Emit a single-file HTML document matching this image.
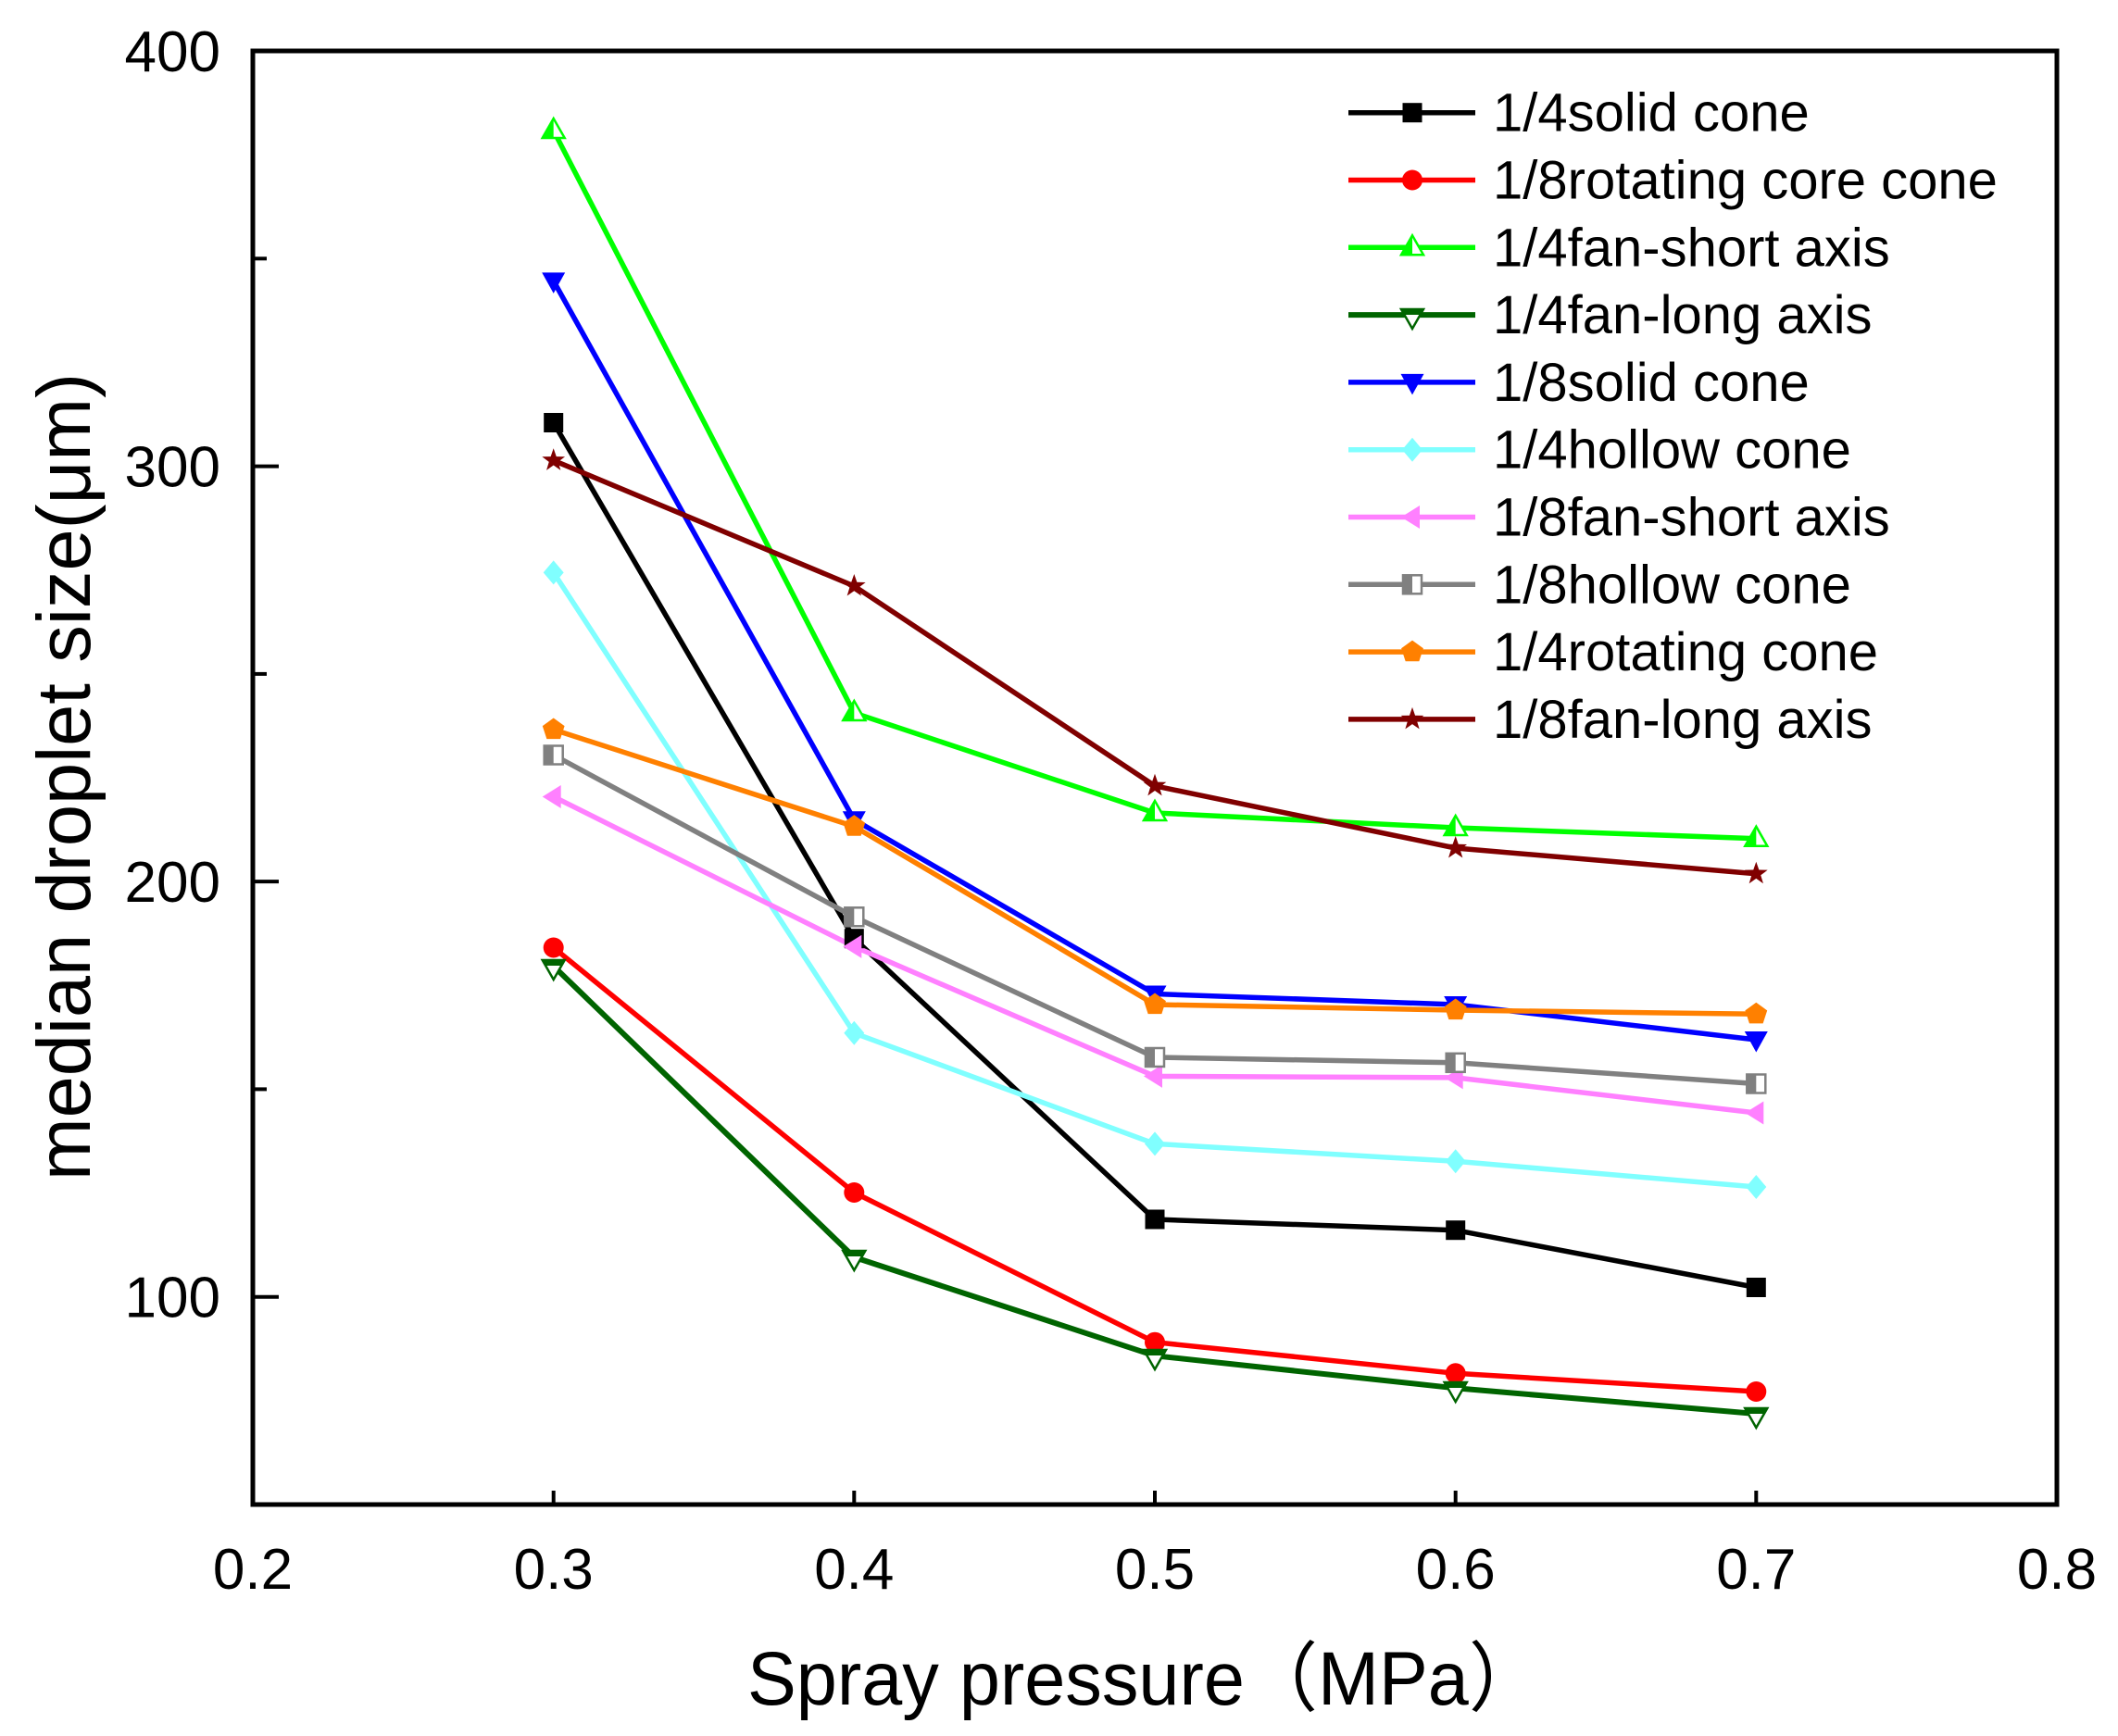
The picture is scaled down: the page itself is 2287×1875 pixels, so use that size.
<!DOCTYPE html>
<html>
<head>
<meta charset="utf-8">
<style>
  html, body { margin: 0; padding: 0; background: #ffffff; }
  svg { display: block; }
  text { font-family: "Liberation Sans", "Noto Sans CJK SC", sans-serif; fill: #000; }
</style>
</head>
<body>
<svg width="2287" height="1875" viewBox="0 0 2287 1875" xmlns="http://www.w3.org/2000/svg">
  <defs>
    <g id="mSq"><rect x="-10.5" y="-10.5" width="21" height="21" fill="#000000"/></g>
    <g id="mCirc"><circle cx="0" cy="0" r="11" fill="#ff0000"/></g>
    <g id="mUp">
      <polygon points="0,-13 -12,8 12,8" fill="#ffffff" stroke="#00ff00" stroke-width="2.5" stroke-linejoin="miter"/>
      <polygon points="0,-13 -12,8 0,8" fill="#00ff00"/>
    </g>
    <g id="mDnH">
      <polygon points="-12,-8 12,-8 0,13" fill="#ffffff" stroke="#006400" stroke-width="2.5"/>
      <polygon points="-12,-8 12,-8 8.6,-2 -8.6,-2" fill="#006400"/>
    </g>
    <g id="mDn"><polygon points="-12.5,-9 12.5,-9 0,13.5" fill="#0000ff"/></g>
    <g id="mDia"><polygon points="0,-13 11,0 0,13 -11,0" fill="#80ffff"/></g>
    <g id="mLeft"><polygon points="-12,0 8,-12.5 8,12.5" fill="#ff80ff"/></g>
    <g id="mHSq">
      <rect x="-10" y="-10" width="20" height="20" fill="#ffffff" stroke="#808080" stroke-width="2.5"/>
      <rect x="-10" y="-10" width="10" height="20" fill="#808080"/>
    </g>
    <g id="mPent"><polygon points="0,-12.5 11.9,-3.9 7.35,10.1 -7.35,10.1 -11.9,-3.9" fill="#ff8000"/></g>
    <g id="mStar"><polygon points="0,-13 3.06,-4.21 12.36,-4.02 4.95,1.61 7.64,10.52 0,5.2 -7.64,10.52 -4.95,1.61 -12.36,-4.02 -3.06,-4.21" fill="#800000"/></g>
  </defs>

  <!-- Axes frame -->
  <rect x="273" y="55" width="1948" height="1570" fill="none" stroke="#000" stroke-width="5"/>

  <!-- Y ticks -->
  <g stroke="#000" stroke-width="4">
    <line x1="273" y1="503.6" x2="301" y2="503.6"/>
    <line x1="273" y1="952.1" x2="301" y2="952.1"/>
    <line x1="273" y1="1400.7" x2="301" y2="1400.7"/>
    <line x1="273" y1="279.3" x2="288" y2="279.3"/>
    <line x1="273" y1="727.9" x2="288" y2="727.9"/>
    <line x1="273" y1="1176.4" x2="288" y2="1176.4"/>
  </g>
  <!-- X ticks -->
  <g stroke="#000" stroke-width="4">
    <line x1="597.7" y1="1625" x2="597.7" y2="1610"/>
    <line x1="922.3" y1="1625" x2="922.3" y2="1610"/>
    <line x1="1247" y1="1625" x2="1247" y2="1610"/>
    <line x1="1571.7" y1="1625" x2="1571.7" y2="1610"/>
    <line x1="1896.3" y1="1625" x2="1896.3" y2="1610"/>
  </g>

  <!-- Y tick labels -->
  <g font-size="62" text-anchor="end">
    <text x="238" y="77">400</text>
    <text x="238" y="525.6">300</text>
    <text x="238" y="974.1">200</text>
    <text x="238" y="1422.7">100</text>
  </g>
  <!-- X tick labels -->
  <g font-size="62" text-anchor="middle">
    <text x="273" y="1716">0.2</text>
    <text x="597.7" y="1716">0.3</text>
    <text x="922.3" y="1716">0.4</text>
    <text x="1247" y="1716">0.5</text>
    <text x="1571.7" y="1716">0.6</text>
    <text x="1896.3" y="1716">0.7</text>
    <text x="2221" y="1716">0.8</text>
  </g>

  <!-- Axis titles -->
  <text x="807" y="1841" font-size="82" textLength="858" lengthAdjust="spacingAndGlyphs">Spray pressure（MPa）</text>
  <text transform="translate(97,839) rotate(-90)" font-size="82" text-anchor="middle" textLength="872" lengthAdjust="spacingAndGlyphs">median droplet size(μm)</text>

  <!-- Series lines -->
  <g fill="none" stroke-width="5.5" stroke-linejoin="round">
    <polyline stroke="#000000" points="597.7,456.5 922.3,1013.7 1247,1317 1571.7,1328.7 1896.3,1390.5"/>
    <polyline stroke="#ff0000" points="597.7,1023.5 922.3,1288 1247,1449.7 1571.7,1483.3 1896.3,1503"/>
    <polyline stroke="#00ff00" points="597.7,141 922.3,770 1247,878 1571.7,894 1896.3,905.7"/>
    <polyline stroke="#006400" stroke-width="6" points="597.7,1043.5 922.3,1357.9 1247,1464.3 1571.7,1499.3 1896.3,1527"/>
    <polyline stroke="#0000ff" points="597.7,303.4 922.3,885.3 1247,1073.5 1571.7,1085 1896.3,1123"/>
    <polyline stroke="#80ffff" points="597.7,618.4 922.3,1115.8 1247,1235.4 1571.7,1254.3 1896.3,1282"/>
    <polyline stroke="#ff80ff" points="597.7,860.5 922.3,1022.4 1247,1162.4 1571.7,1163.9 1896.3,1202"/>
    <polyline stroke="#808080" points="597.7,815.5 922.3,990.3 1247,1142 1571.7,1147.8 1896.3,1170.5"/>
    <polyline stroke="#ff8000" points="597.7,788 922.3,892.6 1247,1085 1571.7,1091 1896.3,1095.3"/>
    <polyline stroke="#800000" points="597.7,497.3 922.3,633 1247,848.8 1571.7,916 1896.3,943.7"/>
  </g>

  <!-- Series markers -->
  <g>
    <use href="#mSq" x="597.7" y="456.5"/><use href="#mSq" x="922.3" y="1013.7"/><use href="#mSq" x="1247" y="1317"/><use href="#mSq" x="1571.7" y="1328.7"/><use href="#mSq" x="1896.3" y="1390.5"/>
    <use href="#mCirc" x="597.7" y="1023.5"/><use href="#mCirc" x="922.3" y="1288"/><use href="#mCirc" x="1247" y="1449.7"/><use href="#mCirc" x="1571.7" y="1483.3"/><use href="#mCirc" x="1896.3" y="1503"/>
    <use href="#mUp" x="597.7" y="141"/><use href="#mUp" x="922.3" y="770"/><use href="#mUp" x="1247" y="878"/><use href="#mUp" x="1571.7" y="894"/><use href="#mUp" x="1896.3" y="905.7"/>
    <use href="#mDnH" x="597.7" y="1045"/><use href="#mDnH" x="922.3" y="1359"/><use href="#mDnH" x="1247" y="1466"/><use href="#mDnH" x="1571.7" y="1501"/><use href="#mDnH" x="1896.3" y="1529"/>
    <use href="#mDn" x="597.7" y="303.4"/><use href="#mDn" x="922.3" y="885.3"/><use href="#mDn" x="1247" y="1073.5"/><use href="#mDn" x="1571.7" y="1085"/><use href="#mDn" x="1896.3" y="1123"/>
    <use href="#mDia" x="597.7" y="618.4"/><use href="#mDia" x="922.3" y="1115.8"/><use href="#mDia" x="1247" y="1235.4"/><use href="#mDia" x="1571.7" y="1254.3"/><use href="#mDia" x="1896.3" y="1282"/>
    <use href="#mLeft" x="597.7" y="860.5"/><use href="#mLeft" x="922.3" y="1022.4"/><use href="#mLeft" x="1247" y="1162.4"/><use href="#mLeft" x="1571.7" y="1163.9"/><use href="#mLeft" x="1896.3" y="1202"/>
    <use href="#mHSq" x="597.7" y="815.5"/><use href="#mHSq" x="922.3" y="990.3"/><use href="#mHSq" x="1247" y="1142"/><use href="#mHSq" x="1571.7" y="1147.8"/><use href="#mHSq" x="1896.3" y="1170.5"/>
    <use href="#mPent" x="597.7" y="788"/><use href="#mPent" x="922.3" y="892.6"/><use href="#mPent" x="1247" y="1085"/><use href="#mPent" x="1571.7" y="1091"/><use href="#mPent" x="1896.3" y="1095.3"/>
    <use href="#mStar" x="597.7" y="497.3"/><use href="#mStar" x="922.3" y="633"/><use href="#mStar" x="1247" y="848.8"/><use href="#mStar" x="1571.7" y="916"/><use href="#mStar" x="1896.3" y="943.7"/>
  </g>

  <!-- Legend -->
  <g stroke-width="5.5">
    <line x1="1456" y1="121.7" x2="1593" y2="121.7" stroke="#000000"/>
    <line x1="1456" y1="194.5" x2="1593" y2="194.5" stroke="#ff0000"/>
    <line x1="1456" y1="267.3" x2="1593" y2="267.3" stroke="#00ff00"/>
    <line x1="1456" y1="340.1" x2="1593" y2="340.1" stroke="#006400" stroke-width="6"/>
    <line x1="1456" y1="412.9" x2="1593" y2="412.9" stroke="#0000ff"/>
    <line x1="1456" y1="485.7" x2="1593" y2="485.7" stroke="#80ffff"/>
    <line x1="1456" y1="558.5" x2="1593" y2="558.5" stroke="#ff80ff"/>
    <line x1="1456" y1="631.3" x2="1593" y2="631.3" stroke="#808080"/>
    <line x1="1456" y1="704.1" x2="1593" y2="704.1" stroke="#ff8000"/>
    <line x1="1456" y1="776.9" x2="1593" y2="776.9" stroke="#800000"/>
  </g>
  <g>
    <use href="#mSq" x="1525" y="121.7"/>
    <use href="#mCirc" x="1525" y="194.5"/>
    <use href="#mUp" x="1525" y="267.3"/>
    <use href="#mDnH" x="1525" y="342"/>
    <use href="#mDn" x="1525" y="412.9"/>
    <use href="#mDia" x="1525" y="485.7"/>
    <use href="#mLeft" x="1525" y="558.5"/>
    <use href="#mHSq" x="1525" y="631.3"/>
    <use href="#mPent" x="1525" y="704.1"/>
    <use href="#mStar" x="1525" y="776.9"/>
  </g>
  <g font-size="58">
    <text x="1612" y="141.7">1/4solid cone</text>
    <text x="1612" y="214.5">1/8rotating core cone</text>
    <text x="1612" y="287.3">1/4fan-short axis</text>
    <text x="1612" y="360.1">1/4fan-long axis</text>
    <text x="1612" y="432.9">1/8solid cone</text>
    <text x="1612" y="505.7">1/4hollow cone</text>
    <text x="1612" y="578.5">1/8fan-short axis</text>
    <text x="1612" y="651.3">1/8hollow cone</text>
    <text x="1612" y="724.1">1/4rotating cone</text>
    <text x="1612" y="796.9">1/8fan-long axis</text>
  </g>
</svg>
</body>
</html>
